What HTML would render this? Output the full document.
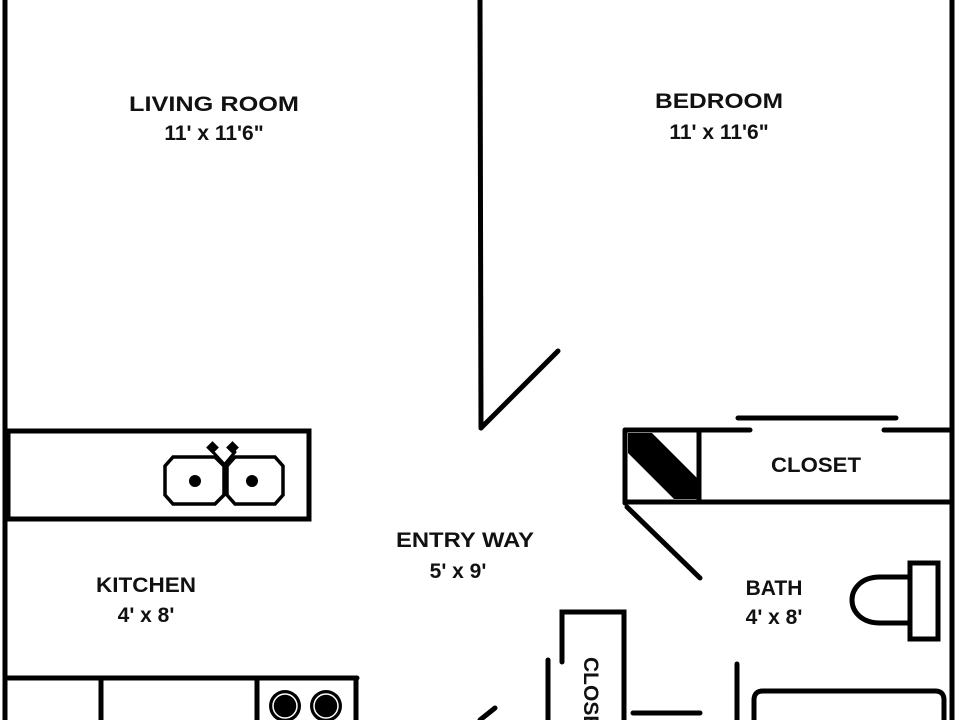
<!DOCTYPE html>
<html><head><style>
html,body{margin:0;padding:0;background:#fff;}
svg{display:block;}
text{font-family:"Liberation Sans",sans-serif;font-weight:bold;fill:#111;}
</style></head><body>
<svg width="960" height="720" viewBox="0 0 960 720" xmlns="http://www.w3.org/2000/svg">
<g stroke="#000" fill="none" stroke-width="5" stroke-linecap="round">
<line x1="5" y1="0" x2="5" y2="720"/>
<line x1="952" y1="0" x2="952" y2="720"/>
<line x1="480" y1="0" x2="481" y2="428"/>
<line x1="481" y1="428" x2="558" y2="351"/>
<rect x="8" y="431" width="301" height="88"/>
<path d="M173 457 H215 L224 466 V495 L215 504 H173 L165 495 V466 Z" stroke-width="3.5"/>
<path d="M235 457 H275 L283 466 V495 L275 504 H235 L227 495 V466 Z" stroke-width="3.5"/>
<line x1="213" y1="452" x2="224" y2="464" stroke-width="3"/>
<line x1="235" y1="452" x2="225" y2="464" stroke-width="3"/>
<line x1="8" y1="678" x2="357" y2="678"/>
<line x1="356" y1="678" x2="356" y2="720"/>
<line x1="101" y1="678" x2="101" y2="720"/>
<line x1="257" y1="678" x2="257" y2="720"/>
<line x1="738" y1="418" x2="896" y2="418"/>
<line x1="625" y1="430" x2="750" y2="430"/>
<line x1="884" y1="430" x2="952" y2="430"/>
<line x1="625" y1="430" x2="625" y2="503"/>
<line x1="625" y1="502" x2="952" y2="502"/>
<line x1="699" y1="430" x2="699" y2="502"/>
<line x1="627" y1="507" x2="700" y2="578"/>
<rect x="910" y="563" width="28" height="76"/>
<path d="M910 577 H880 C860 577 852 590 852 600 C852 612 862 623 880 623 H910"/>
<path d="M562 662 V612 H624 V720"/>
<line x1="548" y1="660" x2="548" y2="720"/>
<line x1="737" y1="664" x2="737" y2="720"/>
<line x1="633" y1="713" x2="700" y2="713"/>
<path d="M754 720 V700 Q754 691 763 691 H935 Q944 691 944 700 V720"/>
<line x1="480" y1="720" x2="495" y2="708"/>
</g>
<polygon points="628,433 652,433 697,478 697,499 674,499 628,453" fill="#000"/>
<polygon points="628,433 647,433 628,452" fill="#000"/>
<g fill="#000">
<rect x="208" y="443" width="9" height="9" transform="rotate(45 212.5 447.5)"/>
<rect x="228" y="443" width="9" height="9" transform="rotate(45 232.5 447.5)"/>
<circle cx="195" cy="481" r="6"/>
<circle cx="252" cy="481" r="6"/>
<circle cx="285" cy="706" r="16"/>
<circle cx="326" cy="706" r="16"/>
</g>
<g fill="none" stroke="#fff" stroke-width="1.5">
<circle cx="285" cy="706" r="12"/>
<circle cx="326" cy="706" r="12"/>
</g>
<g font-size="21">
<text x="214" y="111" text-anchor="middle" textLength="170" lengthAdjust="spacingAndGlyphs">LIVING ROOM</text>
<text x="214" y="140" text-anchor="middle">11' x 11'6"</text>
<text x="719" y="108" text-anchor="middle" textLength="128" lengthAdjust="spacingAndGlyphs">BEDROOM</text>
<text x="719" y="139" text-anchor="middle">11' x 11'6"</text>
<text x="816" y="472" text-anchor="middle" textLength="90" lengthAdjust="spacingAndGlyphs">CLOSET</text>
<text x="465" y="547" text-anchor="middle" textLength="138" lengthAdjust="spacingAndGlyphs">ENTRY WAY</text>
<text x="458" y="578" text-anchor="middle">5' x 9'</text>
<text x="146" y="592" text-anchor="middle" textLength="100" lengthAdjust="spacingAndGlyphs">KITCHEN</text>
<text x="146" y="622" text-anchor="middle">4' x 8'</text>
<text x="774" y="595" text-anchor="middle">BATH</text>
<text x="774" y="624" text-anchor="middle">4' x 8'</text>
<text x="0" y="0" transform="translate(584 657) rotate(90)">CLOSET</text>
</g>
</svg>
</body></html>
